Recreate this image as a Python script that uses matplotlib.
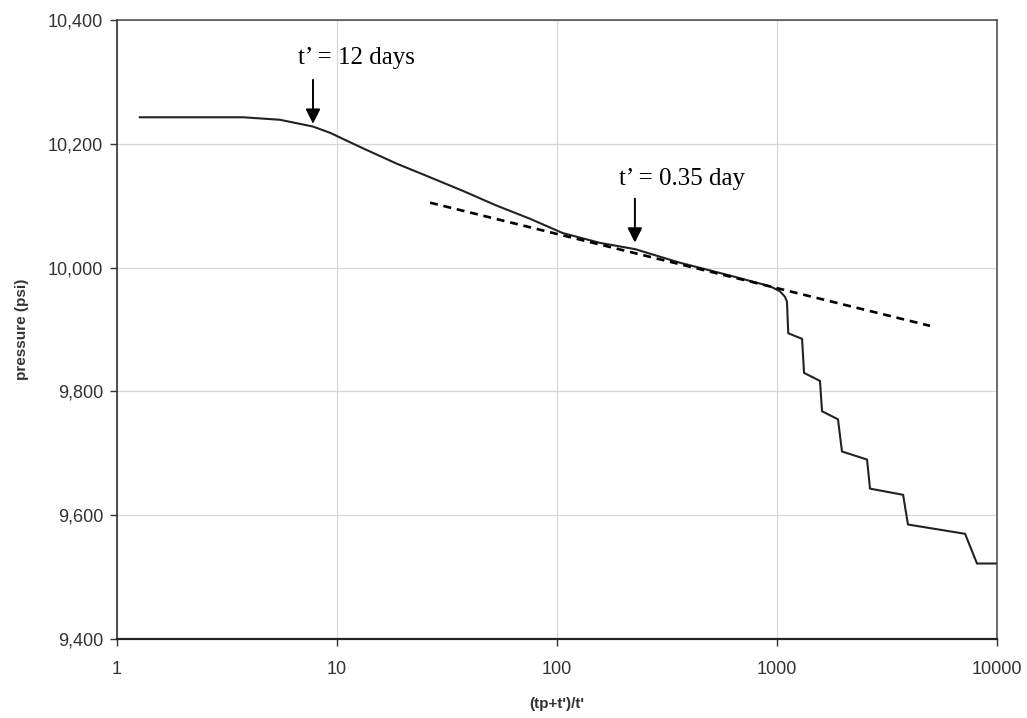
import matplotlib.pyplot as plt
from matplotlib.ticker import FixedLocator, FixedFormatter, NullLocator

# ---------- data ----------
horner_time = [1.27, 3.74, 5.5, 7.78, 9.29, 13.1, 18.7, 26.5, 37.4, 53.4, 75.4, 106,
               157, 226, 362, 600, 929, 1030, 1087, 1110, 1125, 1300, 1327, 1568,
               1602, 1893, 1974, 2566, 2647, 3742, 3938, 7158, 8110, 10000]
pressure = [10243, 10243, 10239, 10228, 10218, 10193, 10168, 10146, 10124, 10100,
            10079, 10056, 10040, 10030, 10008, 9988, 9970, 9962, 9953, 9945, 9894,
            9885, 9830, 9817, 9768, 9755, 9703, 9690, 9643, 9633, 9585, 9570, 9522,
            9522]

# straight-line (radial flow) fit
fit_time = [26.5, 4960]
fit_pressure = [10105, 9906]

x_ticks = [1, 10, 100, 1000, 10000]
x_labels = ["1", "10", "100", "1000", "10000"]
y_ticks = [9400, 9600, 9800, 10000, 10200, 10400]
y_labels = ["9,400", "9,600", "9,800", "10,000", "10,200", "10,400"]

# ---------- plot ----------
fig = plt.figure(figsize=(10.27, 7.18), dpi=100)
ax = fig.add_axes([0.1139, 0.110, 0.8569, 0.862])

ax.plot(horner_time, pressure, color="#222222", linewidth=1.5)
ax.plot(fit_time, fit_pressure, color="black", linewidth=1.9, linestyle=(0, (3, 2.2)))

ax.set_xscale("log")
ax.set_xlim(1, 10000)
ax.set_ylim(9400, 10400)

ax.xaxis.set_major_locator(FixedLocator(x_ticks))
ax.xaxis.set_major_formatter(FixedFormatter(x_labels))
ax.xaxis.set_minor_locator(NullLocator())
ax.yaxis.set_major_locator(FixedLocator(y_ticks))
ax.yaxis.set_major_formatter(FixedFormatter(y_labels))

ax.grid(True, color="#d8d8d0", linewidth=0.9)
ax.set_axisbelow(True)
for s in ax.spines.values():
    s.set_color("#444444")
    s.set_linewidth(1.1)
ax.spines["bottom"].set_color("#222222")
ax.spines["bottom"].set_linewidth(1.6)
ax.spines["left"].set_color("#333333")
ax.spines["left"].set_linewidth(1.2)

ax.tick_params(axis="both", direction="out", length=5, width=1, color="#333333",
               labelsize=13, labelcolor="#333333")
ax.tick_params(axis="y", pad=5)
ax.tick_params(axis="x", pad=11)
for lab in ax.get_xticklabels() + ax.get_yticklabels():
    lab.set_fontfamily("Liberation Sans")

ax.set_xlabel("(tp+t')/t'", fontsize=11, fontweight="bold", family="Liberation Sans",
              color="#333333", va="top")
ax.xaxis.set_label_coords(0.5, -0.094)
ax.set_ylabel("pressure (psi)", fontsize=11, fontweight="bold", family="Liberation Sans",
              color="#333333")
ax.yaxis.set_label_coords(-0.100, 0.5)

# annotations
arrow = dict(arrowstyle="-|>", color="black", linewidth=1.4, mutation_scale=22)
ax.annotate("", xy=(7.78, 10228), xytext=(7.78, 10308), arrowprops=arrow)
ax.text(12.2, 10338, "t\u2019 = 12 days", fontsize=18, family="Liberation Serif",
        ha="center", va="center")
ax.annotate("", xy=(226, 10036), xytext=(226, 10116), arrowprops=arrow)
ax.text(370, 10144, "t\u2019 = 0.35 day", fontsize=18, family="Liberation Serif",
        ha="center", va="center")

fig.savefig("out.png", dpi=100)
